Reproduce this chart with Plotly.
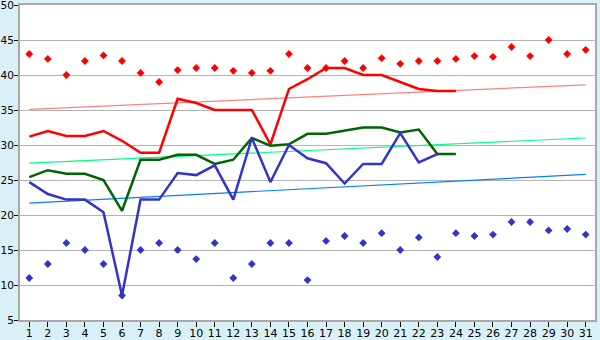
import plotly.graph_objects as go

days = list(range(1, 32))
day_labels = [str(d) for d in days]

max_points = [43.0, 42.3, 40.0, 42.0, 42.8, 42.0, 40.3, 39.0, 40.7, 41.0,
              41.0, 40.6, 40.3, 40.6, 43.0, 41.0, 41.0, 42.0, 41.0, 42.4,
              41.6, 42.0, 42.0, 42.3, 42.7, 42.6, 44.0, 42.7, 45.0, 43.0, 43.6]
min_points = [11.0, 13.0, 16.0, 15.0, 13.0, 8.5, 15.0, 16.0, 15.0, 13.7,
              16.0, 11.0, 13.0, 16.0, 16.0, 10.7, 16.3, 17.0, 16.0, 17.4,
              15.0, 16.8, 14.0, 17.4, 17.0, 17.2, 19.0, 19.0, 17.8, 18.0, 17.2]

red_line = [31.2, 32.0, 31.3, 31.3, 32.0, 30.6, 28.9, 28.9, 36.6, 36.0,
            35.0, 35.0, 35.0, 30.1, 38.0, 39.4, 41.0, 41.0, 40.0, 40.0,
            39.0, 38.0, 37.7, 37.7]
green_line = [25.4, 26.4, 25.9, 25.9, 25.0, 20.6, 27.9, 27.9, 28.6, 28.6,
              27.3, 27.9, 31.0, 29.9, 30.1, 31.6, 31.6, 32.1, 32.5, 32.5,
              31.8, 32.2, 28.7, 28.7]
blue_line = [24.7, 23.0, 22.2, 22.2, 20.4, 8.5, 22.2, 22.2, 26.0, 25.7,
             27.1, 22.2, 31.0, 24.7, 30.0, 28.1, 27.4, 24.5, 27.3, 27.3,
             31.7, 27.5, 28.7]

trend_days = [1, 31]
red_trend = [35.1, 38.6]
green_trend = [27.4, 31.0]
blue_trend = [21.7, 25.8]

fig = go.Figure()

fig.add_trace(go.Scatter(x=trend_days, y=red_trend, mode="lines",
                         line=dict(color="#ff8080", width=1.2)))
fig.add_trace(go.Scatter(x=trend_days, y=green_trend, mode="lines",
                         line=dict(color="#00ff80", width=1.2)))
fig.add_trace(go.Scatter(x=trend_days, y=blue_trend, mode="lines",
                         line=dict(color="#0080ff", width=1.2)))

fig.add_trace(go.Scatter(x=days[:len(red_line)], y=red_line, mode="lines",
                         line=dict(color="#ff0000", width=2.5)))
fig.add_trace(go.Scatter(x=days[:len(green_line)], y=green_line, mode="lines",
                         line=dict(color="#006400", width=2.5)))
fig.add_trace(go.Scatter(x=days[:len(blue_line)], y=blue_line, mode="lines",
                         line=dict(color="#3333cc", width=2.5)))

fig.add_trace(go.Scatter(x=days, y=max_points, mode="markers",
                         marker=dict(symbol="diamond", size=6, color="#ff0000")))
fig.add_trace(go.Scatter(x=days, y=min_points, mode="markers",
                         marker=dict(symbol="diamond", size=6, color="#3333cc")))

fig.update_layout(
    width=600, height=340,
    margin=dict(l=20, r=5, t=5, b=20),
    paper_bgcolor="#d9f0f7",
    plot_bgcolor="#ffffff",
    showlegend=False,
    font=dict(family="DejaVu Sans", size=11, color="#000000"),
)
fig.update_xaxes(
    range=[0.5, 31.5], tickvals=days, ticktext=day_labels,
    showgrid=False, zeroline=False, automargin=False,
    ticklabeloverflow="allow", ticklabelstandoff=-3,
    showline=True, linecolor="#a8a8a8", linewidth=2, mirror=True,
    ticks="outside", ticklen=5, tickcolor="#000000", tickwidth=1,
    fixedrange=True,
)
fig.update_yaxes(
    range=[5, 50], dtick=5, tick0=5,
    showgrid=True, gridcolor="#b4b4b4", gridwidth=1, zeroline=False,
    automargin=False, ticklabeloverflow="allow", ticklabelstandoff=-2,
    tickfont=dict(size=10.5),
    showline=True, linecolor="#a8a8a8", linewidth=2, mirror=True,
    ticks="outside", ticklen=4, tickcolor="#000000", tickwidth=1,
    fixedrange=True,
)

fig.write_html("out.html", config={"displayModeBar": False})
